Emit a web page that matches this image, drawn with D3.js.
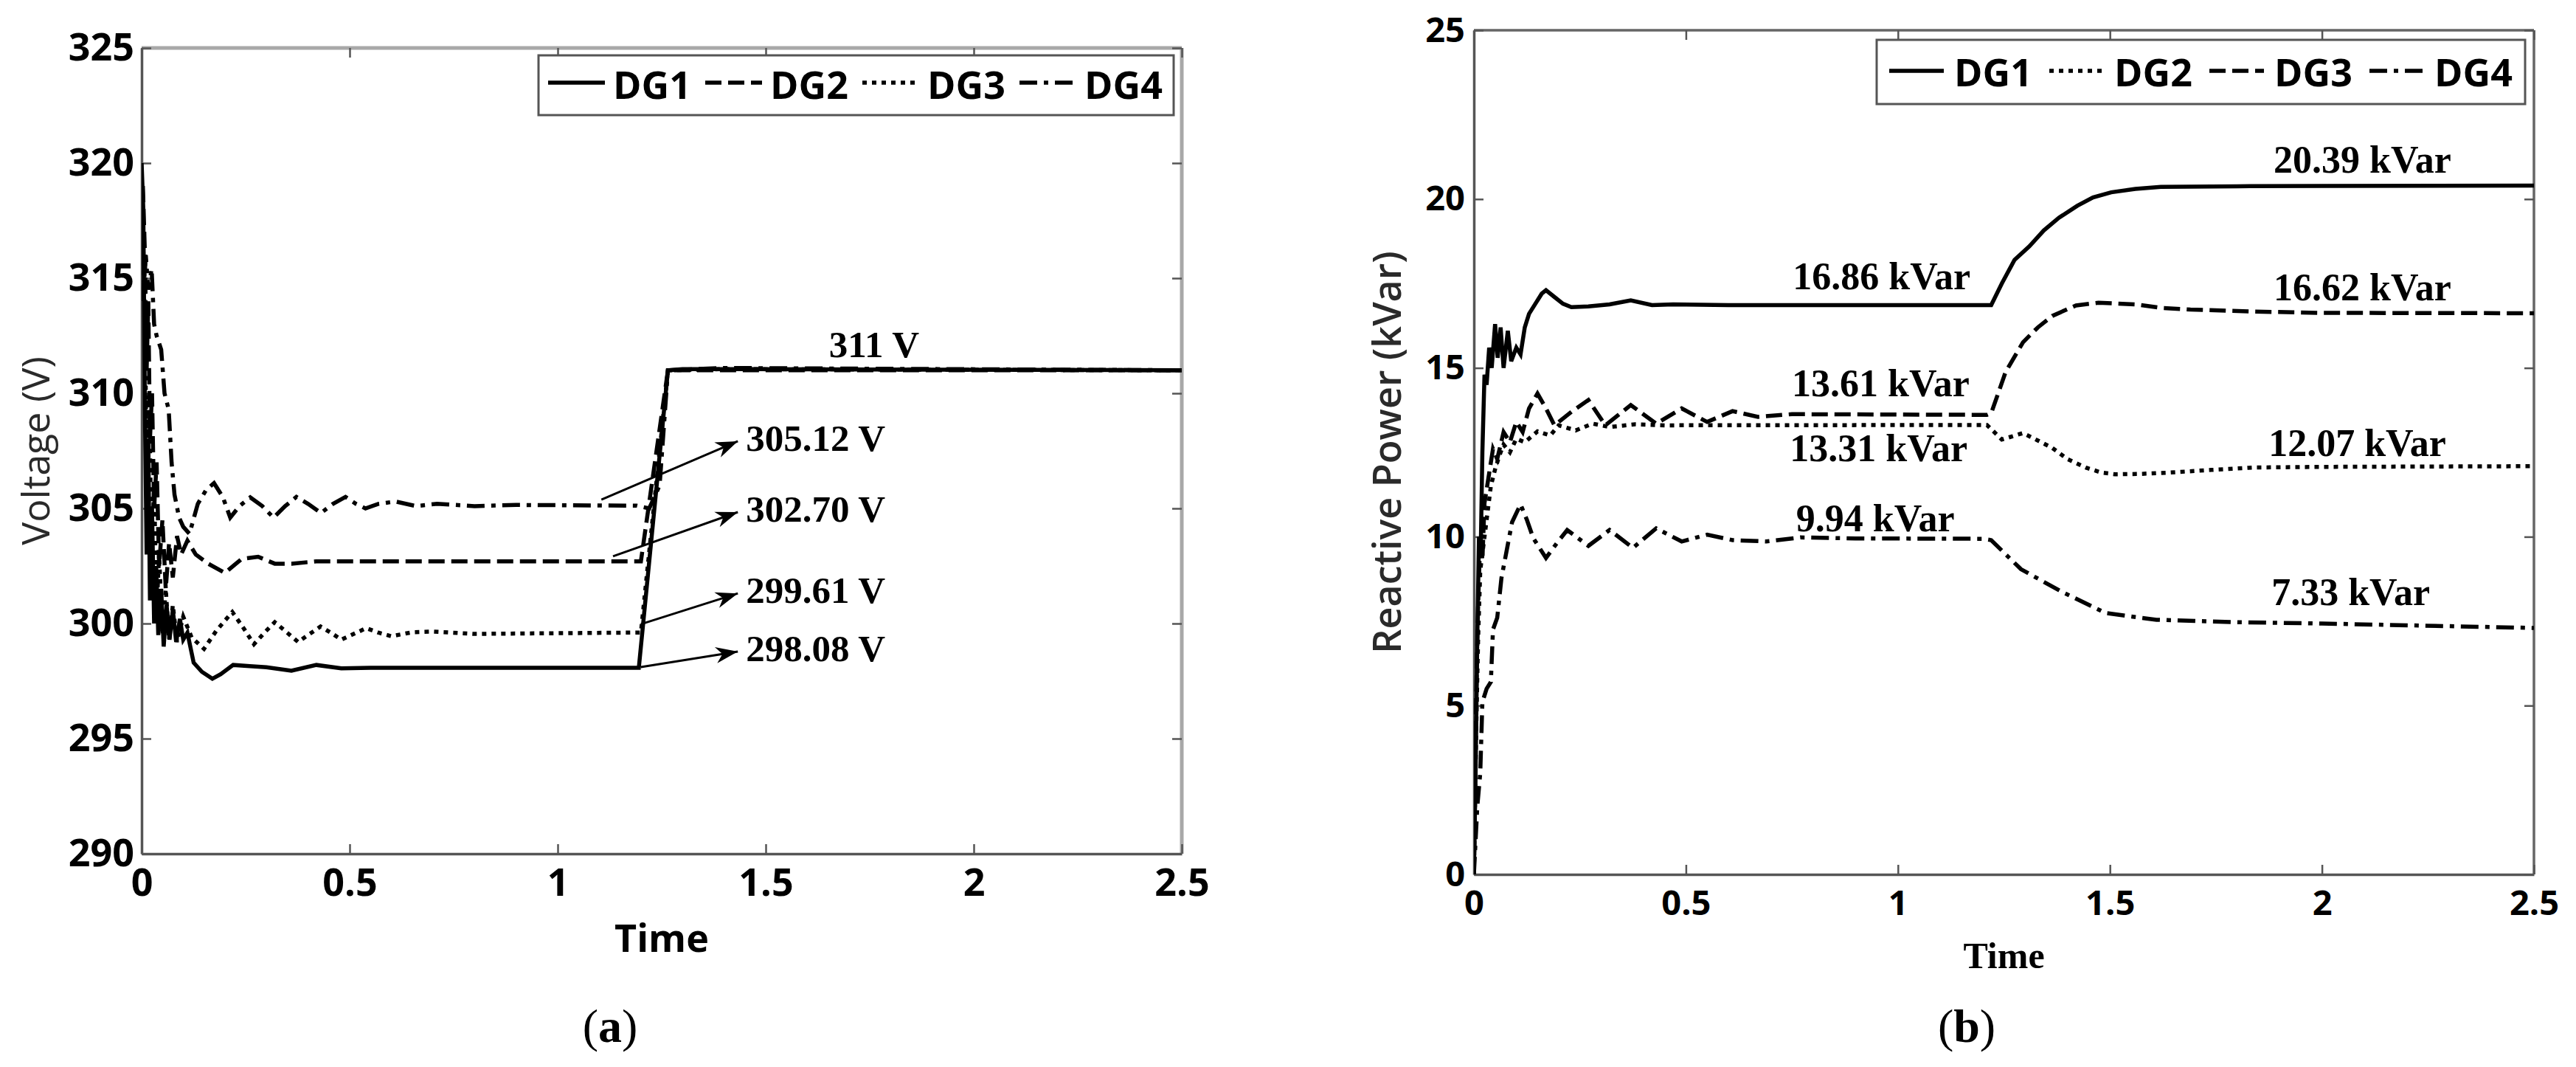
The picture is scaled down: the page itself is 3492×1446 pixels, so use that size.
<!DOCTYPE html>
<html>
<head>
<meta charset="utf-8">
<script src="https://cdn.jsdelivr.net/npm/d3@7"></script>
<style>
  body { margin: 0; background: #fff; }
  svg { display: block; }
</style>
</head>
<body>
<div id="chart"></div>
<script>
// ---- data ----
var timeTicks = [0, 0.5, 1, 1.5, 2, 2.5];
var voltTicks = [290, 295, 300, 305, 310, 315, 320, 325];
var powerTicks = [0, 5, 10, 15, 20, 25];
var seriesNames = ["DG1", "DG2", "DG3", "DG4"];

// (a) voltage, [time, V]
var voltDG1 = [[0,320],[0.004,318],[0.008,309],[0.012,303],[0.016,308],[0.02,301],[0.025,305],[0.03,300],[0.035,302.5],[0.04,299.5],[0.047,301.5],[0.053,299],[0.06,300.8],[0.067,299.3],[0.075,300.6],[0.083,299.2],[0.092,300.2],[0.1,299.3],[0.11,299.6],[0.125,298.3],[0.145,297.9],[0.17,297.6],[0.19,297.8],[0.22,298.2],[0.26,298.15],[0.3,298.1],[0.36,297.95],[0.42,298.2],[0.48,298.05],[0.55,298.08],[1.195,298.08],[1.265,311],[1.3,311.05],[1.4,311.05],[2.5,311]];
var voltDG2 = [[0.003,319],[0.008,316],[0.012,311],[0.016,314],[0.02,308],[0.025,310],[0.03,305],[0.036,307],[0.042,302.5],[0.05,304.5],[0.058,301.5],[0.066,303.5],[0.075,302],[0.085,303.8],[0.095,303.0],[0.11,303.6],[0.13,303.0],[0.16,302.6],[0.2,302.2],[0.24,302.8],[0.28,302.9],[0.32,302.6],[0.36,302.6],[0.42,302.7],[1.2,302.7],[1.265,311],[1.4,311],[2.5,311]];
var voltDG3 = [[0.003,317],[0.008,313],[0.012,307],[0.018,310],[0.024,303],[0.03,306],[0.036,300.5],[0.042,303],[0.05,299.5],[0.058,301.5],[0.066,299.3],[0.075,300.8],[0.085,299.2],[0.1,300.3],[0.12,299.4],[0.15,298.9],[0.18,299.7],[0.218,300.5],[0.245,299.8],[0.27,299.1],[0.295,299.6],[0.32,300.06],[0.35,299.6],[0.376,299.2],[0.4,299.5],[0.43,299.87],[0.455,299.6],[0.48,299.3],[0.51,299.55],[0.54,299.8],[0.57,299.6],[0.6,299.45],[0.65,299.62],[0.7,299.65],[0.8,299.55],[1.2,299.61],[1.265,311],[1.4,311.05],[2.5,311]];
var voltDG4 = [[0.003,314],[0.01,316],[0.016,314.5],[0.024,315.4],[0.03,313],[0.036,312.5],[0.047,311.9],[0.055,310],[0.065,309.3],[0.072,307],[0.079,305.6],[0.09,304.6],[0.1,304.2],[0.115,303.9],[0.135,305.2],[0.155,305.8],[0.174,306.1],[0.195,305.5],[0.213,304.6],[0.235,305.1],[0.261,305.48],[0.29,305.1],[0.317,304.6],[0.345,305.1],[0.372,305.5],[0.4,305.2],[0.431,304.8],[0.46,305.2],[0.49,305.5],[0.515,305.2],[0.538,305.0],[0.57,305.2],[0.61,305.3],[0.66,305.1],[0.71,305.2],[0.8,305.1],[0.9,305.15],[1.19,305.12],[1.22,305.0],[1.245,306],[1.265,311],[1.4,311.1],[2.5,311]];

// (b) reactive power, [time, kVar]
var powerDG1 = [[0,0],[0.004,3],[0.008,7],[0.012,10],[0.016,9.5],[0.02,12.5],[0.025,14.8],[0.03,14.5],[0.036,15.6],[0.042,15],[0.05,16.3],[0.056,15.3],[0.063,16.2],[0.07,15],[0.08,16.1],[0.088,15.2],[0.1,15.6],[0.11,15.4],[0.12,16.2],[0.13,16.6],[0.145,16.9],[0.16,17.2],[0.17,17.3],[0.19,17.1],[0.21,16.9],[0.23,16.8],[0.27,16.82],[0.32,16.88],[0.37,17.0],[0.42,16.86],[0.47,16.88],[0.6,16.86],[1.22,16.86],[1.245,17.5],[1.275,18.2],[1.31,18.6],[1.344,19.07],[1.38,19.45],[1.423,19.8],[1.46,20.05],[1.503,20.2],[1.56,20.3],[1.62,20.36],[1.8,20.38],[2.0,20.39],[2.5,20.4]];
var powerDG2 = [[0,0],[0.005,4],[0.01,7],[0.015,9],[0.02,9.5],[0.03,10.5],[0.04,11.5],[0.05,12.0],[0.06,12.4],[0.07,12.73],[0.085,12.5],[0.1,12.9],[0.12,12.8],[0.15,13.12],[0.18,13.0],[0.2,13.3],[0.24,13.15],[0.28,13.35],[0.32,13.25],[0.38,13.33],[0.45,13.3],[1.21,13.31],[1.245,12.88],[1.295,13.07],[1.33,12.85],[1.364,12.63],[1.4,12.3],[1.443,12.05],[1.48,11.9],[1.512,11.85],[1.57,11.86],[1.64,11.9],[1.74,11.98],[1.84,12.05],[2.0,12.07],[2.5,12.09]];
var powerDG3 = [[0,0],[0.005,5],[0.01,8],[0.015,10],[0.02,9.3],[0.025,11],[0.035,11.8],[0.045,12.6],[0.055,12.3],[0.07,13.1],[0.085,12.8],[0.1,13.4],[0.115,13.1],[0.13,13.8],[0.15,14.24],[0.17,13.8],[0.19,13.3],[0.23,13.7],[0.27,14.05],[0.31,13.3],[0.34,13.6],[0.37,13.9],[0.43,13.35],[0.49,13.8],[0.55,13.4],[0.61,13.72],[0.67,13.55],[0.75,13.63],[1.21,13.61],[1.22,13.66],[1.254,14.88],[1.295,15.76],[1.33,16.2],[1.364,16.54],[1.42,16.85],[1.473,16.93],[1.562,16.88],[1.62,16.78],[1.69,16.73],[1.838,16.67],[2.0,16.63],[2.5,16.62]];
var powerDG4 = [[0,0],[0.008,2],[0.015,3.0],[0.02,5.1],[0.03,5.5],[0.04,5.7],[0.045,7.25],[0.055,7.6],[0.065,8.78],[0.09,10.43],[0.11,10.96],[0.125,10.5],[0.14,9.96],[0.17,9.37],[0.195,9.8],[0.22,10.2],[0.27,9.73],[0.32,10.2],[0.375,9.67],[0.43,10.25],[0.49,9.86],[0.55,10.06],[0.61,9.9],[0.69,9.86],[0.77,9.98],[0.9,9.95],[1.2,9.94],[1.22,9.9],[1.29,9.04],[1.385,8.38],[1.49,7.74],[1.61,7.54],[1.8,7.47],[2.0,7.43],[2.5,7.3]];

// annotations (data units)
var voltArrows = [
  {label: "305.12 V", from: [1.105, 305.38], to: [1.433, 307.92]},
  {label: "302.70 V", from: [1.133, 302.92], to: [1.433, 304.84]},
  {label: "299.61 V", from: [1.2, 299.97], to: [1.433, 301.31]},
  {label: "298.08 V", from: [1.2, 298.11], to: [1.433, 298.78]}
];
var voltNotes = [{label: "311 V", at: [1.652, 311.57]}];
var powerNotes = [
  {label: "16.86 kVar", at: [0.752, 17.32]},
  {label: "13.61 kVar", at: [0.75, 14.15]},
  {label: "13.31 kVar", at: [0.745, 12.24]},
  {label: "9.94 kVar", at: [0.76, 10.17]},
  {label: "20.39 kVar", at: [1.886, 20.79]},
  {label: "16.62 kVar", at: [1.886, 17.01]},
  {label: "12.07 kVar", at: [1.874, 12.40]},
  {label: "7.33 kVar", at: [1.881, 7.98]}
];

var dashes = {solid: null, dashed: "22,9", dotted: "6,7", dashdot: "24,9,6,9"};

var svg = d3.select("#chart").append("svg").attr("width", 3492).attr("height", 1446);
var defs = svg.append("defs");
defs.append("marker").attr("id", "arrow").attr("markerUnits", "userSpaceOnUse")
  .attr("viewBox", "-32 -12 34 24").attr("refX", 0).attr("refY", 0)
  .attr("markerWidth", 34).attr("markerHeight", 24).attr("orient", "auto")
  .append("path").attr("d", "M0,0L-30,-11L-21,0L-30,11Z").attr("fill", "#000");

function drawPanel(cfg){
  var x = d3.scaleLinear().domain([0, 2.5]).range([cfg.left, cfg.right]);
  var y = d3.scaleLinear().domain(cfg.yDomain).range([cfg.bottom, cfg.top]);
  var g = svg.append("g");

  defs.append("clipPath").attr("id", cfg.id + "clip").append("rect")
    .attr("x", cfg.left).attr("y", cfg.top - 3)
    .attr("width", cfg.right - cfg.left).attr("height", cfg.bottom - cfg.top + 3);

  // frame
  g.append("line").attr("x1", cfg.left).attr("x2", cfg.right).attr("y1", cfg.top).attr("y2", cfg.top)
    .attr("stroke", cfg.topColor).attr("stroke-width", cfg.topWidth);
  g.append("line").attr("x1", cfg.right).attr("x2", cfg.right).attr("y1", cfg.top).attr("y2", cfg.bottom)
    .attr("stroke", cfg.topColor).attr("stroke-width", cfg.topWidth);

  var tickFont = function(sel){
    sel.selectAll("text").attr("font-family", "'Open Sans', sans-serif").attr("font-weight", 700)
      .attr("font-size", cfg.tickSize).attr("fill", "#000");
    sel.selectAll("line").attr("stroke", "#555").attr("stroke-width", 2.5);
    sel.select(".domain").attr("stroke", "#555").attr("stroke-width", 3.5);
  };

  g.append("g").attr("transform", "translate(0," + cfg.bottom + ")")
    .call(d3.axisBottom(x).tickValues(timeTicks).tickFormat(d3.format("")).tickSize(-13).tickSizeOuter(0).tickPadding(cfg.xPad))
    .call(tickFont);
  g.append("g").attr("transform", "translate(" + cfg.left + ",0)")
    .call(d3.axisLeft(y).tickValues(cfg.yTicks).tickSize(-13).tickSizeOuter(0).tickPadding(cfg.yPad))
    .call(tickFont);
  g.append("g").attr("transform", "translate(0," + cfg.top + ")")
    .call(d3.axisTop(x).tickValues(timeTicks).tickFormat("").tickSize(-13).tickSizeOuter(0))
    .call(function(s){ s.select(".domain").remove(); s.selectAll("line").attr("stroke", "#555").attr("stroke-width", 2.5); });
  g.append("g").attr("transform", "translate(" + cfg.right + ",0)")
    .call(d3.axisRight(y).tickValues(cfg.yTicks).tickFormat("").tickSize(-13).tickSizeOuter(0))
    .call(function(s){ s.select(".domain").remove(); s.selectAll("line").attr("stroke", "#555").attr("stroke-width", 2.5); });

  // data lines
  var line = d3.line().x(function(d){ return x(d[0]); }).y(function(d){ return y(d[1]); });
  var lines = g.append("g").attr("clip-path", "url(#" + cfg.id + "clip)");
  cfg.series.forEach(function(s){
    lines.append("path").datum(s.data).attr("d", line)
      .attr("fill", "none").attr("stroke", "#000").attr("stroke-width", 5.5)
      .attr("stroke-dasharray", dashes[s.style]);
  });

  // notes
  cfg.notes.forEach(function(n){
    g.append("text").attr("x", x(n.at[0])).attr("y", y(n.at[1])).text(n.label)
      .attr("font-family", "'Liberation Serif', 'Times New Roman', serif").attr("font-weight", 700)
      .attr("font-size", cfg.noteSize).attr("fill", "#000");
  });
  (cfg.arrows || []).forEach(function(a){
    g.append("line").attr("x1", x(a.from[0])).attr("y1", y(a.from[1]))
      .attr("x2", x(a.to[0])).attr("y2", y(a.to[1]))
      .attr("stroke", "#000").attr("stroke-width", 3).attr("marker-end", "url(#arrow)");
    g.append("text").attr("x", x(a.to[0]) + 11).attr("y", y(a.to[1]) + 13).text(a.label)
      .attr("font-family", "'Liberation Serif', 'Times New Roman', serif").attr("font-weight", 700)
      .attr("font-size", cfg.noteSize).attr("fill", "#000");
  });

  // legend
  var lg = cfg.legend;
  g.append("rect").attr("x", lg.x).attr("y", lg.y).attr("width", lg.w).attr("height", lg.h)
    .attr("fill", "#fff").attr("stroke", "#555").attr("stroke-width", 3);
  cfg.series.forEach(function(s, i){
    var x0 = lg.x + lg.first + i * lg.step;
    g.append("line").attr("x1", x0).attr("x2", x0 + lg.lineLen).attr("y1", lg.lineY).attr("y2", lg.lineY)
      .attr("stroke", "#000").attr("stroke-width", 5.5).attr("stroke-dasharray", dashes[s.style]);
    g.append("text").attr("x", x0 + 88).attr("y", lg.textY).text(seriesNames[i])
      .attr("font-family", "'Open Sans', sans-serif").attr("font-weight", 700)
      .attr("font-size", 52).attr("fill", "#000");
  });

  // axis titles
  g.append("text").attr("transform", "translate(" + cfg.yLabelX + "," + ((cfg.top + cfg.bottom) / 2) + ") rotate(-90)")
    .attr("text-anchor", "middle").attr("dominant-baseline", "central").text(cfg.yLabel)
    .attr("font-family", "'Open Sans', sans-serif").attr("font-weight", cfg.yLabelWeight)
    .attr("font-size", 52).attr("fill", "#2a2a2a");
  g.append("text").attr("x", (cfg.left + cfg.right) / 2).attr("y", cfg.xLabelY).attr("text-anchor", "middle")
    .text("Time").attr("font-family", cfg.xLabelFont).attr("font-weight", 700)
    .attr("font-size", cfg.xLabelSize).attr("fill", "#000");

  var cap = g.append("text").attr("x", cfg.capX).attr("y", 1412).attr("text-anchor", "middle")
    .attr("font-family", "'Liberation Serif', 'Times New Roman', serif").attr("font-size", 64).attr("fill", "#000");
  cap.append("tspan").text("(");
  cap.append("tspan").attr("font-weight", 700).text(cfg.cap);
  cap.append("tspan").text(")");
}

drawPanel({
  id: "volt", left: 192, right: 1602, top: 65, bottom: 1157,
  yDomain: [290, 325], yTicks: voltTicks, tickSize: 52, xPad: 20, yPad: 10,
  topColor: "#a8a8a8", topWidth: 5,
  series: [
    {data: voltDG1, style: "solid"}, {data: voltDG2, style: "dashed"},
    {data: voltDG3, style: "dotted"}, {data: voltDG4, style: "dashdot"}
  ],
  notes: voltNotes, arrows: voltArrows, noteSize: 51,
  legend: {x: 730, y: 75, w: 861, h: 81, first: 13, step: 213, lineLen: 77, lineY: 112, textY: 134},
  yLabel: "Voltage (V)", yLabelX: 46, yLabelWeight: 400,
  xLabelY: 1290, xLabelFont: "'Open Sans', sans-serif", xLabelSize: 52,
  capX: 827, cap: "a"
});

drawPanel({
  id: "power", left: 1998, right: 3435, top: 41, bottom: 1185,
  yDomain: [0, 25], yTicks: powerTicks, tickSize: 47, xPad: 22, yPad: 12,
  topColor: "#666", topWidth: 3.5,
  series: [
    {data: powerDG1, style: "solid"}, {data: powerDG2, style: "dotted"},
    {data: powerDG3, style: "dashed"}, {data: powerDG4, style: "dashdot"}
  ],
  notes: powerNotes, noteSize: 52,
  legend: {x: 2544, y: 54, w: 879, h: 87, first: 17, step: 217, lineLen: 74, lineY: 96, textY: 117},
  yLabel: "Reactive Power (kVar)", yLabelX: 1878, yLabelWeight: 600,
  xLabelY: 1312, xLabelFont: "'Liberation Serif', 'Times New Roman', serif", xLabelSize: 50,
  capX: 2666, cap: "b"
});
</script>
</body>
</html>
